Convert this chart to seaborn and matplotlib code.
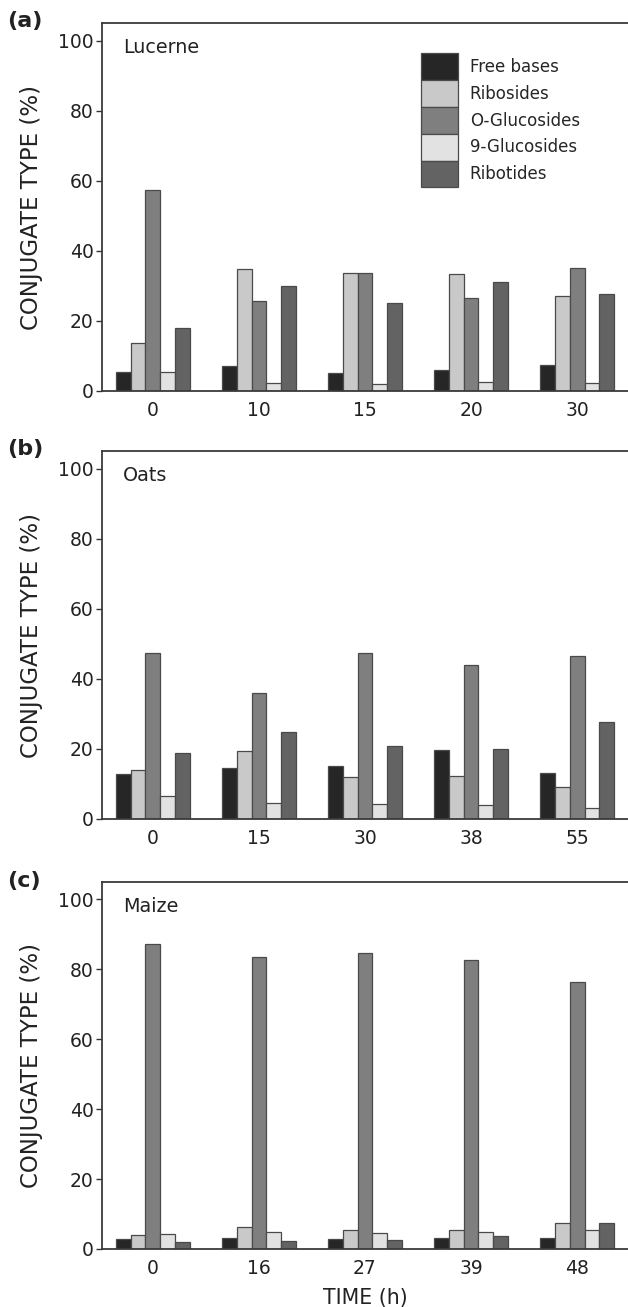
import pandas as pd
import seaborn as sns
import matplotlib
matplotlib.use("Agg")
import matplotlib.pyplot as plt

# conjugate types (hue)
types = ["Free bases", "Ribosides", "O-Glucosides", "9-Glucosides", "Ribotides"]
type_colors = ["#262626", "#c9c9c9", "#7f7f7f", "#e2e2e2", "#636363"]

# Lucerne
lucerne_times = ["0", "10", "15", "20", "30"]
lucerne_free = [5.3, 7.0, 5.0, 6.1, 7.5]
lucerne_ribosides = [13.8, 34.8, 33.8, 33.5, 27.1]
lucerne_oglu = [57.3, 25.8, 33.8, 26.5, 35.1]
lucerne_9glu = [5.3, 2.2, 1.9, 2.7, 2.4]
lucerne_ribotides = [17.9, 30.1, 25.0, 31.1, 27.6]

# Oats
oats_times = ["0", "15", "30", "38", "55"]
oats_free = [12.9, 14.6, 15.1, 19.7, 13.2]
oats_ribosides = [14.0, 19.3, 12.1, 12.2, 9.1]
oats_oglu = [47.3, 36.0, 47.5, 44.0, 46.6]
oats_9glu = [6.7, 4.7, 4.3, 4.1, 3.2]
oats_ribotides = [18.8, 24.8, 20.9, 19.9, 27.7]

# Maize
maize_times = ["0", "16", "27", "39", "48"]
maize_free = [2.8, 3.1, 2.9, 3.1, 3.2]
maize_ribosides = [3.9, 6.4, 5.3, 5.5, 7.4]
maize_oglu = [87.2, 83.5, 84.7, 82.8, 76.5]
maize_9glu = [4.3, 4.8, 4.5, 5.0, 5.5]
maize_ribotides = [2.0, 2.4, 2.7, 3.7, 7.3]


def long_table(times, series):
    rows = []
    for name, vals in zip(types, series):
        for t, v in zip(times, vals):
            rows.append({"time": t, "type": name, "pct": v})
    return pd.DataFrame(rows)


panels = [
    ("(a)", "Lucerne", lucerne_times,
     [lucerne_free, lucerne_ribosides, lucerne_oglu, lucerne_9glu, lucerne_ribotides]),
    ("(b)", "Oats", oats_times,
     [oats_free, oats_ribosides, oats_oglu, oats_9glu, oats_ribotides]),
    ("(c)", "Maize", maize_times,
     [maize_free, maize_ribosides, maize_oglu, maize_9glu, maize_ribotides]),
]

sns.set_style("ticks")
plt.rcParams["font.family"] = ["DejaVu Sans"]

W, H = 628, 1307
fig = plt.figure(figsize=(W / 100, H / 100), dpi=100)

# axes boxes in pixels: (top, bottom)
boxes = [(23, 391), (451, 819), (882, 1249)]
left_px, right_px = 102, 628
letter_y = [21, 449, 881]

for i, (letter, name, times, series) in enumerate(panels):
    top, bot = boxes[i]
    ax = fig.add_axes([left_px / W, 1 - bot / H, (right_px - left_px) / W, (bot - top) / H])
    df = long_table(times, series)
    sns.barplot(data=df, x="time", y="pct", hue="type", order=times, hue_order=types,
                palette=type_colors, width=0.7, edgecolor="#4a4a4a", linewidth=0.9,
                errorbar=None, ax=ax, legend=(i == 0))

    ax.set_ylim(0, 105)
    ax.set_xlim(-0.48, 4.48)
    ax.set_yticks([0, 20, 40, 60, 80, 100])
    ax.tick_params(axis="y", length=4.5, width=1, pad=1.5, labelsize=13.5, colors="#333333",
                   labelcolor="#222222")
    ax.tick_params(axis="x", length=0, pad=7, labelsize=13.5, labelcolor="#222222")
    for s in ["left", "top", "bottom"]:
        ax.spines[s].set_color("#3a3a3a")
        ax.spines[s].set_linewidth(1.3)
    ax.spines["right"].set_visible(False)

    ax.set_ylabel("CONJUGATE TYPE (%)", fontsize=16.5, color="#222222")
    ax.yaxis.set_label_coords(-0.113, 0.5)
    if i == 2:
        ax.set_xlabel("TIME (h)", fontsize=14.8, color="#222222")
        ax.xaxis.set_label_coords(0.5, -0.106)
    else:
        ax.set_xlabel("")

    ax.text(0.04, 0.919, name, transform=ax.transAxes, fontsize=13.8, va="baseline",
            ha="left", color="#222222")
    fig.text(7 / W, 1 - letter_y[i] / H, letter, fontsize=16, fontweight="bold",
             va="center", ha="left", color="#222222")

    if i == 0:
        ax.legend(loc="upper left", bbox_to_anchor=(0.6065, 0.918), frameon=False,
                  fontsize=12, handlelength=2.2, handleheight=2.1, labelspacing=0.0,
                  handletextpad=0.72, borderpad=0, borderaxespad=0)

fig.savefig("out.png", dpi=100)
